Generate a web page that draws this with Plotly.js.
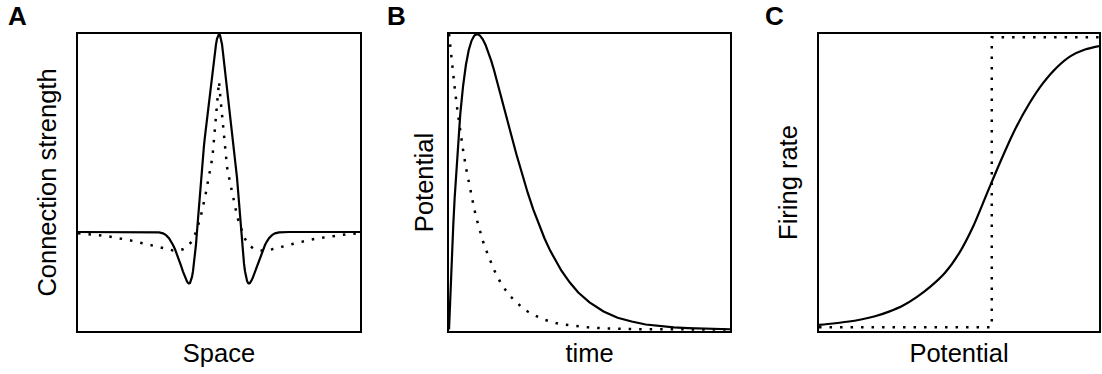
<!DOCTYPE html>
<html>
<head>
<meta charset="utf-8">
<script src="https://cdn.plot.ly/plotly-3.0.1.min.js"></script>
<style>html,body{margin:0;padding:0;background:#fff;}#chart{width:1102px;height:374px;}</style>
</head>
<body>
<div id="chart"></div>
<script>
// ---------- Panel A: connection strength vs space ----------
var spaceA = [-141,-130,-120,-110,-100,-90,-82,-76,-70,-65,-60,-56,-53,-50,-48,-46,-44,-42,-40,-38,-36,-34,-33,-32,-31,-30,-29,-28,-27,-26,-25,-24,-23,-22,-21,-20,-19,-18,-17,-16,-15,-14,-13,-12,-11,-10,-9,-8,-7,-6,-5,-4,-3,-2,-1,0,1,2,3,4,5,6,7,8,9,10,11,12,13,14,15,16,17,18,19,20,21,22,23,24,25,26,27,28,29,30,31,32,33,34,36,38,40,42,44,46,48,50,53,56,60,65,70,76,82,90,100,110,120,130,141];
var strengthSolidA = [0,0,0,0,0,0,0,0,0,0,-0.002,-0.007,-0.016,-0.031,-0.047,-0.066,-0.087,-0.112,-0.140,-0.170,-0.200,-0.228,-0.240,-0.250,-0.257,-0.260,-0.257,-0.246,-0.227,-0.198,-0.160,-0.115,-0.062,0.003,0.072,0.143,0.212,0.275,0.333,0.388,0.438,0.484,0.528,0.570,0.612,0.652,0.693,0.735,0.775,0.816,0.860,0.905,0.948,0.976,0.994,1.000,0.994,0.976,0.948,0.905,0.860,0.816,0.775,0.735,0.693,0.652,0.612,0.570,0.528,0.484,0.438,0.388,0.333,0.275,0.212,0.143,0.072,0.003,-0.062,-0.115,-0.160,-0.198,-0.227,-0.246,-0.257,-0.260,-0.257,-0.250,-0.240,-0.228,-0.200,-0.170,-0.140,-0.112,-0.087,-0.066,-0.047,-0.031,-0.016,-0.007,-0.002,0,0,0,0,0,0,0,0,0,0];
var strengthDottedA = [-0.006,-0.010,-0.016,-0.023,-0.031,-0.041,-0.050,-0.057,-0.065,-0.072,-0.079,-0.084,-0.087,-0.090,-0.092,-0.093,-0.093,-0.093,-0.092,-0.090,-0.087,-0.082,-0.079,-0.075,-0.070,-0.065,-0.059,-0.052,-0.044,-0.035,-0.024,-0.012,0.001,0.015,0.031,0.048,0.065,0.084,0.104,0.126,0.150,0.176,0.201,0.226,0.250,0.274,0.300,0.330,0.366,0.410,0.462,0.520,0.582,0.643,0.700,0.760,0.700,0.643,0.582,0.520,0.462,0.410,0.366,0.330,0.300,0.274,0.250,0.226,0.201,0.176,0.150,0.126,0.104,0.084,0.065,0.048,0.031,0.015,0.001,-0.012,-0.024,-0.035,-0.044,-0.052,-0.059,-0.065,-0.070,-0.075,-0.079,-0.082,-0.087,-0.090,-0.092,-0.093,-0.093,-0.093,-0.092,-0.090,-0.087,-0.084,-0.079,-0.072,-0.065,-0.057,-0.050,-0.041,-0.031,-0.023,-0.016,-0.010,-0.006];

// ---------- Panel B: potential vs time ----------
var timeB = [0,0.5,1,1.5,2,3,4,5,6,7,8,9,10,11,12,13,14,15,16,18,20,22,24,26,28,30,32,34,36,38,40,43,46,50,55,60,65,70,75,80,85,90,95,100];
var potentialSolidB = [0,0.129,0.246,0.351,0.445,0.604,0.729,0.824,0.895,0.945,0.977,0.995,1.000,0.995,0.982,0.963,0.938,0.910,0.878,0.809,0.736,0.663,0.592,0.525,0.463,0.406,0.355,0.308,0.267,0.231,0.199,0.159,0.125,0.092,0.061,0.040,0.027,0.017,0.011,0.007,0.005,0.003,0.002,0.001];
var potentialDottedB = [1.000,0.951,0.905,0.861,0.819,0.741,0.670,0.607,0.549,0.497,0.449,0.407,0.368,0.333,0.301,0.273,0.247,0.223,0.202,0.165,0.135,0.111,0.091,0.074,0.061,0.050,0.041,0.033,0.027,0.022,0.018,0.014,0.010,0.007,0.004,0.002,0.0015,0.001,0.0006,0.0003,0.0002,0.0001,0.0001,0];

// ---------- Panel C: firing rate vs potential ----------
var potentialC = [0,0.05,0.10,0.15,0.20,0.25,0.30,0.35,0.40,0.45,0.50,0.55,0.60,0.65,0.70,0.75,0.80,0.85,0.90,0.95,1.00];
var rateC = [0.008,0.013,0.019,0.027,0.038,0.054,0.075,0.105,0.142,0.188,0.255,0.347,0.462,0.576,0.682,0.770,0.842,0.897,0.936,0.958,0.970];
var stepX = [0,0.617,0.617,1];
var stepY = [0,0,1,1];

var panelLabels = ['A','B','C'];
var xTitles = ['Space','time','Potential'];
var yTitles = ['Connection strength','Potential','Firing rate'];

var solidLine = {color:'#000', width:2.2};
var dotLine = {color:'#000', width:2.5, dash:'2.5px,8px'};

var traces = [
  {x:spaceA, y:strengthDottedA, xaxis:'x', yaxis:'y', mode:'lines', line:dotLine, hoverinfo:'skip'},
  {x:spaceA, y:strengthSolidA, xaxis:'x', yaxis:'y', mode:'lines', line:solidLine, hoverinfo:'skip'},
  {x:timeB, y:potentialDottedB, xaxis:'x2', yaxis:'y2', mode:'lines', line:dotLine, hoverinfo:'skip'},
  {x:timeB, y:potentialSolidB, xaxis:'x2', yaxis:'y2', mode:'lines', line:solidLine, hoverinfo:'skip'},
  {x:stepX, y:stepY, xaxis:'x3', yaxis:'y3', mode:'lines', line:dotLine, hoverinfo:'skip'},
  {x:potentialC, y:rateC, xaxis:'x3', yaxis:'y3', mode:'lines', line:Object.assign({shape:'spline', smoothing:0.8}, solidLine), hoverinfo:'skip'}
];

function ax(extra){
  var base = {showline:true, mirror:true, linecolor:'#000', linewidth:2.2, showgrid:false, zeroline:false,
              showticklabels:false, ticks:'', fixedrange:true};
  return Object.assign(base, extra);
}
var titleFont = {size:25.5, color:'#000', family:'Liberation Sans, Arial, sans-serif'};
var labelFont = {size:26, color:'#000', family:'Liberation Sans, Arial, sans-serif'};

var layout = {
  width:1102, height:374,
  margin:{l:78, r:3, t:34, b:43, pad:0},
  paper_bgcolor:'#fff', plot_bgcolor:'#fff',
  showlegend:false,
  font:{family:'Liberation Sans, Arial, sans-serif', color:'#000'},
  xaxis: ax({domain:[0,0.2762], range:[-141,141], anchor:'y', title:{text:xTitles[0], font:titleFont, standoff:12}}),
  yaxis: ax({domain:[0,1], range:[-0.5,1], anchor:'x', title:{text:yTitles[0], font:titleFont, standoff:11.5}}),
  xaxis2: ax({domain:[0.3634,0.6386], range:[0,100], anchor:'y2', title:{text:xTitles[1], font:titleFont, standoff:12}}),
  yaxis2: ax({domain:[0,1], range:[-0.005,1], anchor:'x2', title:{text:yTitles[1], font:titleFont, standoff:6}}),
  xaxis3: ax({domain:[0.7258,1], range:[0,1], anchor:'y3', title:{text:xTitles[2], font:titleFont, standoff:12}}),
  yaxis3: ax({domain:[0,1], range:[-0.0128,1.0115], anchor:'x3', title:{text:yTitles[2], font:titleFont, standoff:12.5}}),
  annotations: [
    {text:'<b>'+panelLabels[0]+'</b>', xref:'paper', yref:'paper', x:-0.0705, y:1.0596, xanchor:'left', yanchor:'middle', showarrow:false, font:labelFont},
    {text:'<b>'+panelLabels[1]+'</b>', xref:'paper', yref:'paper', x:0.3002, y:1.0596, xanchor:'left', yanchor:'middle', showarrow:false, font:labelFont},
    {text:'<b>'+panelLabels[2]+'</b>', xref:'paper', yref:'paper', x:0.6709, y:1.0596, xanchor:'left', yanchor:'middle', showarrow:false, font:labelFont}
  ]
};

Plotly.newPlot('chart', traces, layout, {displayModeBar:false, staticPlot:true});
</script>
</body>
</html>
